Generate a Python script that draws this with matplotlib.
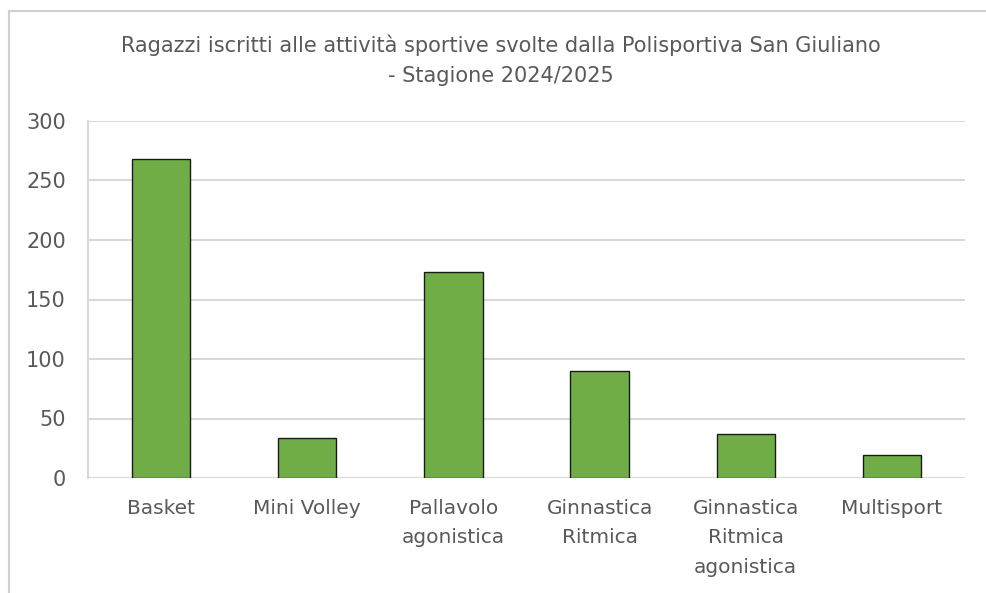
import matplotlib.pyplot as plt
from matplotlib.lines import Line2D

categories = ["Basket", "Mini Volley", "Pallavolo\nagonistica", "Ginnastica\nRitmica",
              "Ginnastica\nRitmica\nagonistica", "Multisport"]
iscritti = [268, 34, 173, 90, 37, 19]
yticks = [0, 50, 100, 150, 200, 250, 300]

title = ("Ragazzi iscritti alle attività sportive svolte dalla Polisportiva San Giuliano\n"
         "- Stagione 2024/2025")

W, H = 986, 593
fig = plt.figure(figsize=(W / 100, H / 100), dpi=100)
ax = fig.add_axes([88 / W, 1 - 478 / H, (965 - 88) / W, (478 - 121) / H])

x = range(len(categories))
ax.bar(x, iscritti, width=0.4, color="#70AD47", edgecolor="#1a1a1a", linewidth=1, zorder=3)

ax.set_xlim(-0.5, len(categories) - 0.5)
ax.set_ylim(0, 300)
ax.set_yticks(yticks)
ax.set_xticks(list(x))
ax.set_xticklabels(categories, fontsize=14.5, color="#595959", linespacing=1.7, va="top")
ax.tick_params(axis="y", labelsize=15, colors="#595959", length=0, pad=16)
ax.tick_params(axis="x", length=0, pad=15)

ax.grid(axis="y", color="#D9D9D9", linewidth=1.5, zorder=0)
for side in ["top", "right"]:
    ax.spines[side].set_visible(False)
ax.spines["bottom"].set_visible(False)
ax.spines["left"].set_color("#D9D9D9")
ax.spines["left"].set_linewidth(1.5)

fig.text(501 / W, 1 - 60 / H, title, ha="center", va="center", fontsize=15,
         color="#595959", linespacing=1.65)

# chart frame
fig.add_artist(Line2D([9 / W, 1], [1 - 11 / H, 1 - 11 / H], color="#D0D0D0", linewidth=1.5))
fig.add_artist(Line2D([9 / W, 9 / W], [0, 1 - 11 / H], color="#D0D0D0", linewidth=1.5))

fig.savefig("out.png", dpi=100)
